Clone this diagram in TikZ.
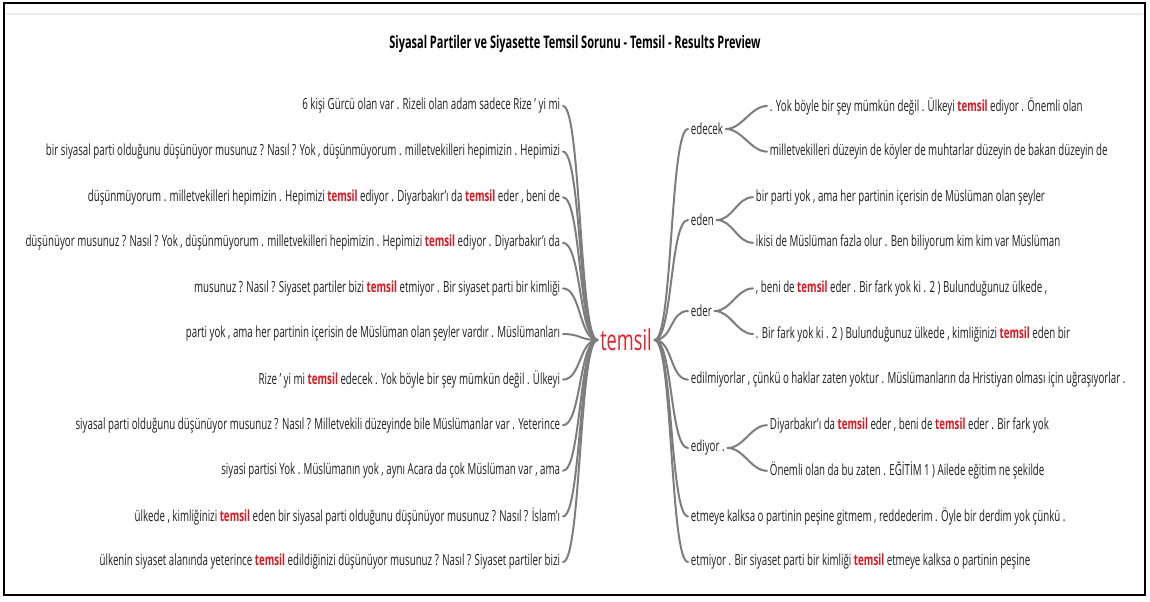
\documentclass[tikz,border=0pt]{standalone}
\usepackage{fontspec}
\setmainfont{Open Sans}[FakeStretch=0.635]
\usetikzlibrary{calc}
\definecolor{hl}{RGB}{222,22,32}
\definecolor{rootred}{RGB}{226,34,44}
\definecolor{txt}{RGB}{30,30,30}
\definecolor{edgegray}{RGB}{125,125,125}
\definecolor{faint}{RGB}{235,235,235}
\newcommand{\hlt}{\textcolor{hl}{\bfseries temsil}}
\begin{document}
\begin{tikzpicture}[x=0.75pt,y=-0.75pt,
  leaf/.style={font=\fontsize{11.5}{13}\selectfont, text=txt, inner sep=2pt},
  lleaf/.style={leaf, anchor=east},
  rleaf/.style={leaf, anchor=west},
  conn/.style={draw=edgegray, line width=1.5pt, line cap=round},
]
\fill[white] (0,0) rectangle (1150,601);
\useasboundingbox (0,0) rectangle (1150,601);
\draw[faint, line width=0.8pt] (6,14) -- (1143,14);
\draw[line width=2.2pt] (4,3) rectangle (1145,595);

\node[font=\bfseries\fontsize{13}{15}\selectfont, text=black] (title) at (575,44)
  {Siyasal Partiler ve Siyasette Temsil Sorunu - Temsil - Results Preview};

\node[font=\fontsize{21.5}{24}\selectfont, text=rootred, inner sep=2pt] (root) at (626,340) {temsil};

% left leaves
\node[lleaf] (L1) at (563,106) {6 kişi Gürcü olan var . Rizeli olan adam sadece Rize ' yi mi};
\node[lleaf] (L2) at (563,151.6) {bir siyasal parti olduğunu düşünüyor musunuz ? Nasıl ? Yok , düşünmüyorum . milletvekilleri hepimizin . Hepimizi};
\node[lleaf] (L3) at (563,197.2) {düşünmüyorum . milletvekilleri hepimizin . Hepimizi \hlt{} ediyor . Diyarbakır'ı da \hlt{} eder , beni de};
\node[lleaf] (L4) at (563,242.8) {düşünüyor musunuz ? Nasıl ? Yok , düşünmüyorum . milletvekilleri hepimizin . Hepimizi \hlt{} ediyor . Diyarbakır'ı da};
\node[lleaf] (L5) at (563,288.4) {musunuz ? Nasıl ? Siyaset partiler bizi \hlt{} etmiyor . Bir siyaset parti bir kimliği};
\node[lleaf] (L6) at (563,334) {parti yok , ama her partinin içerisin de Müslüman olan şeyler vardır . Müslümanları};
\node[lleaf] (L7) at (563,379.6) {Rize ' yi mi \hlt{} edecek . Yok böyle bir şey mümkün değil . Ülkeyi};
\node[lleaf] (L8) at (563,425.2) {siyasal parti olduğunu düşünüyor musunuz ? Nasıl ? Milletvekili düzeyinde bile Müslümanlar var . Yeterince};
\node[lleaf] (L9) at (563,470.8) {siyasi partisi Yok . Müslümanın yok , aynı Acara da çok Müslüman var , ama};
\node[lleaf] (L10) at (563,516.4) {ülkede , kimliğinizi \hlt{} eden bir siyasal parti olduğunu düşünüyor musunuz ? Nasıl ? İslam'ı};
\node[lleaf] (L11) at (563,562) {ülkenin siyaset alanında yeterince \hlt{} edildiğinizi düşünüyor musunuz ? Nasıl ? Siyaset partiler bizi};

% right first level
\node[rleaf] (R1) at (688,129) {edecek};
\node[rleaf] (R2) at (688,220) {eden};
\node[rleaf] (R3) at (688,311) {eder};
\node[rleaf] (R4) at (688,379.6) {edilmiyorlar , çünkü o haklar zaten yoktur . Müslümanların da Hristiyan olması için uğraşıyorlar .};
\node[rleaf] (R5) at (688,448) {ediyor .};
\node[rleaf] (R6) at (688,516.4) {etmeye kalksa o partinin peşine gitmem , reddederim . Öyle bir derdim yok çünkü .};
\node[rleaf] (R7) at (688,562) {etmiyor . Bir siyaset parti bir kimliği \hlt{} etmeye kalksa o partinin peşine};

% right second level
\node[rleaf] (E1a) at (767,106) {. Yok böyle bir şey mümkün değil . Ülkeyi \hlt{} ediyor . Önemli olan};
\node[rleaf] (E1b) at (767,151.6) {milletvekilleri düzeyin de köyler de muhtarlar düzeyin de bakan düzeyin de};
\node[rleaf] (E2a) at (753,197.2) {bir parti yok , ama her partinin içerisin de Müslüman olan şeyler};
\node[rleaf] (E2b) at (753,242.8) {ikisi de Müslüman fazla olur . Ben biliyorum kim kim var Müslüman};
\node[rleaf] (E3a) at (753,288.4) {, beni de \hlt{} eder . Bir fark yok ki . 2 ) Bulunduğunuz ülkede ,};
\node[rleaf] (E3b) at (753,334) {. Bir fark yok ki . 2 ) Bulunduğunuz ülkede , kimliğinizi \hlt{} eden bir};
\node[rleaf] (E5a) at (767,425.2) {Diyarbakır'ı da \hlt{} eder , beni de \hlt{} eder . Bir fark yok};
\node[rleaf] (E5b) at (767,470.8) {Önemli olan da bu zaten . EĞİTİM 1 ) Ailede eğitim ne şekilde};

% connectors
\foreach \i in {1,...,11}
  \draw[conn] (L\i.east) .. controls +(18,0) and +(-18,0) .. (root.west);
\foreach \i in {1,...,7}
  \draw[conn] (root.east) .. controls +(18,0) and +(-18,0) .. (R\i.west);
\foreach \p/\c in {R1/E1a,R1/E1b,R2/E2a,R2/E2b,R3/E3a,R3/E3b,R5/E5a,R5/E5b}
  \draw[conn] (\p.east) .. controls +(16,0) and +(-16,0) .. (\c.west);
\end{tikzpicture}
\end{document}
